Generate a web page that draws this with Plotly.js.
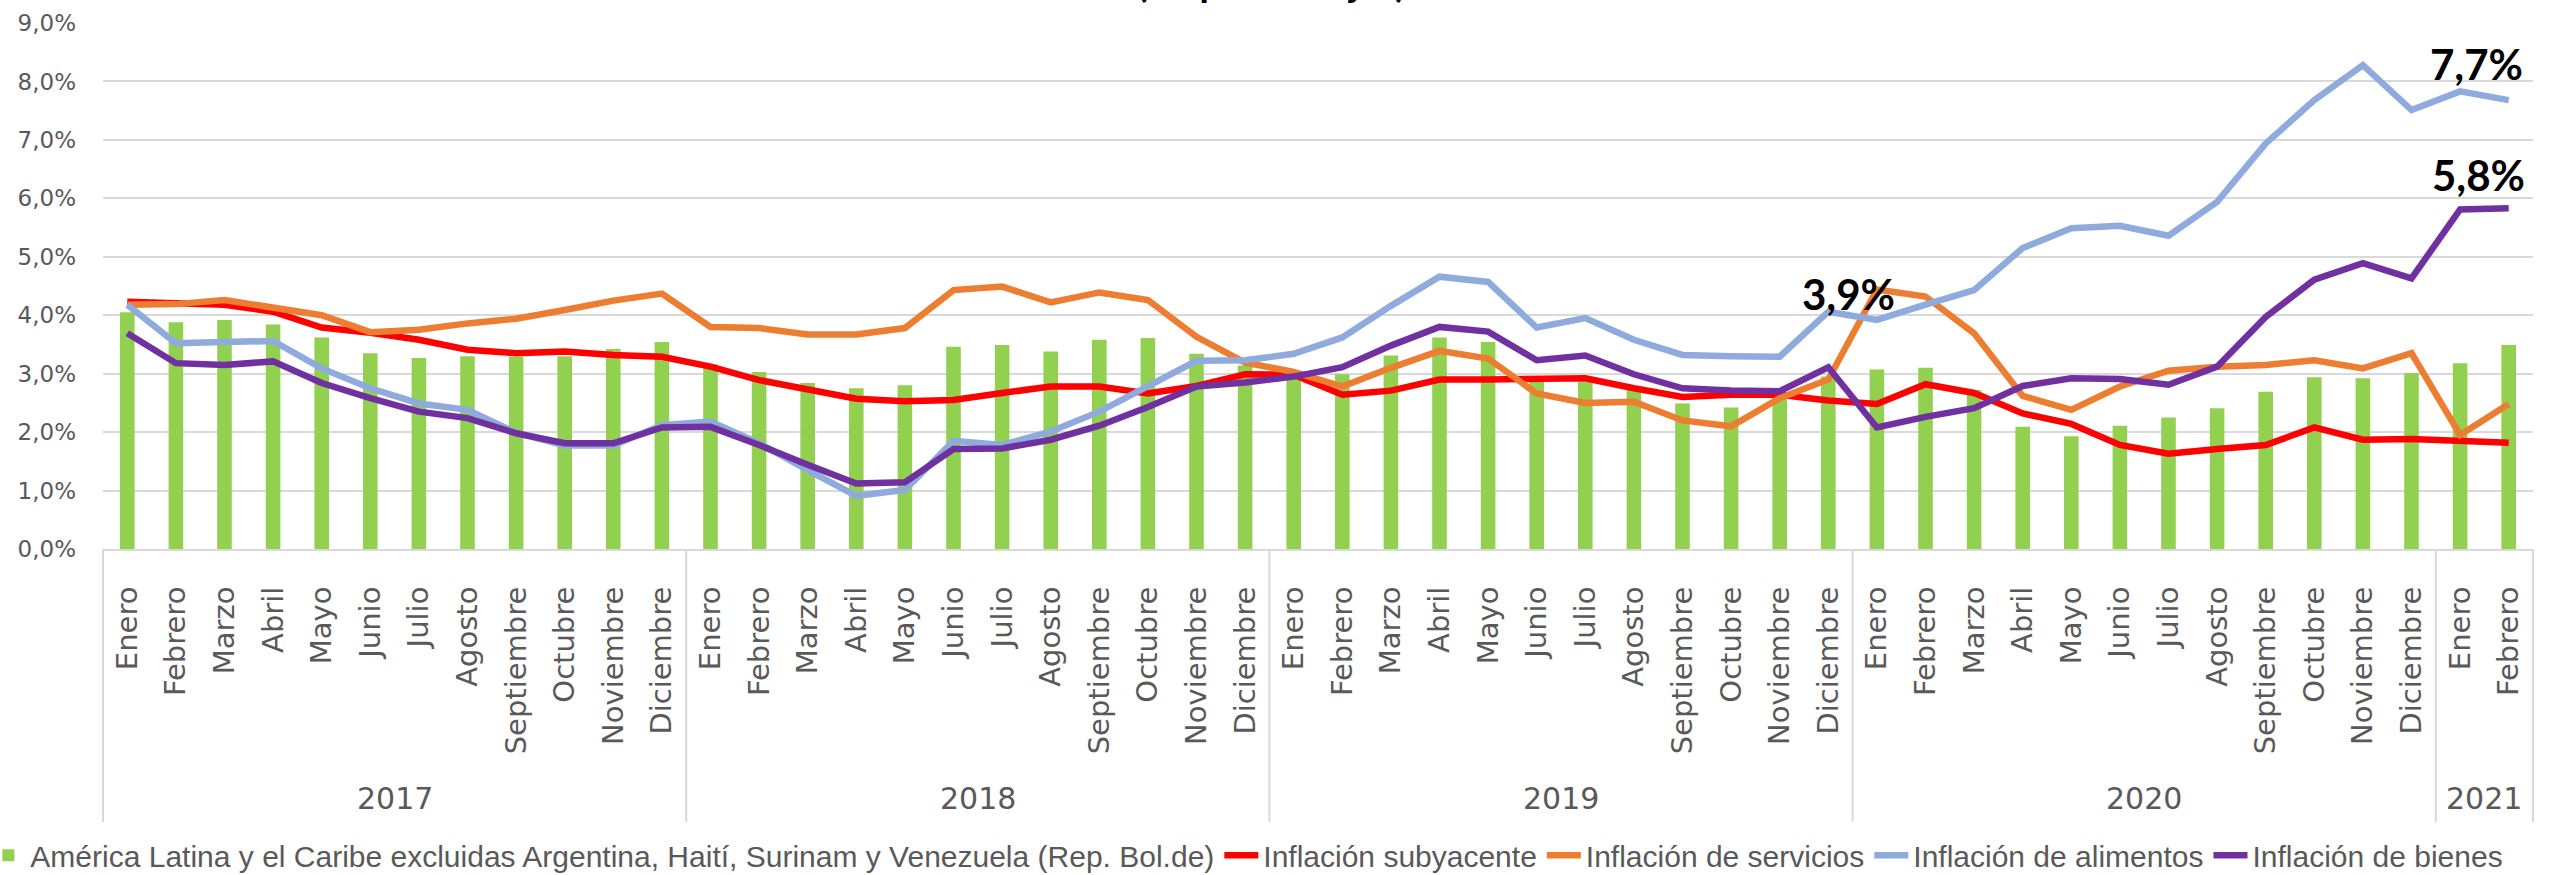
<!DOCTYPE html>
<html><head><meta charset="utf-8">
<script src="https://cdn.plot.ly/plotly-3.0.1.min.js"></script>
<style>html,body{margin:0;padding:0;background:#fff;} #chart{width:2554px;height:875px;}</style>
</head><body><div id="chart"></div>
<script>
const months = ['Enero','Febrero','Marzo','Abril','Mayo','Junio','Julio','Agosto','Septiembre','Octubre','Noviembre','Diciembre'];
const years = ['2017','2018','2019','2020','2021'];
const monthsPerYear = [12,12,12,12,2];

const seriesNames = [
  'América Latina y el Caribe excluidas Argentina, Haití, Surinam y Venezuela (Rep. Bol.de)',
  'Inflación subyacente','Inflación de servicios','Inflación de alimentos','Inflación de bienes'
];

const americaLatina = [4.05,3.88,3.92,3.84,3.62,3.35,3.27,3.30,3.29,3.30,3.42,3.54,
  3.16,3.03,2.84,2.75,2.80,3.46,3.49,3.38,3.58,3.61,3.34,3.14,
  3.05,2.99,3.31,3.62,3.54,2.90,2.86,2.79,2.49,2.42,2.65,2.95,
  3.07,3.10,2.72,2.09,1.93,2.11,2.25,2.41,2.69,2.94,2.92,3.01,
  3.18,3.49];
const subyacente = [4.23,4.20,4.18,4.06,3.79,3.70,3.58,3.41,3.35,3.38,3.32,3.29,
  3.12,2.89,2.72,2.57,2.53,2.55,2.67,2.78,2.78,2.66,2.79,2.99,
  2.98,2.64,2.71,2.90,2.90,2.92,2.92,2.75,2.60,2.64,2.64,2.54,
  2.48,2.82,2.67,2.32,2.14,1.78,1.63,1.71,1.78,2.08,1.87,1.88,
  1.85,1.82];
const servicios = [4.18,4.19,4.26,4.12,4.00,3.71,3.75,3.86,3.94,4.09,4.25,4.37,
  3.80,3.78,3.67,3.67,3.78,4.43,4.49,4.22,4.39,4.26,3.63,3.19,
  3.03,2.78,3.10,3.39,3.26,2.66,2.50,2.52,2.20,2.10,2.58,2.90,
  4.44,4.32,3.69,2.62,2.38,2.78,3.05,3.12,3.15,3.23,3.09,3.35,
  1.95,2.48];
const alimentos = [4.18,3.52,3.54,3.56,3.09,2.75,2.49,2.38,1.99,1.77,1.77,2.12,
  2.18,1.81,1.35,0.91,1.01,1.85,1.78,2.01,2.35,2.78,3.22,3.23,
  3.34,3.62,4.16,4.66,4.57,3.79,3.95,3.58,3.32,3.30,3.29,4.06,
  3.92,4.18,4.43,5.15,5.49,5.53,5.36,5.94,6.94,7.68,8.28,7.51,
  7.83,7.68];
const bienes = [3.69,3.18,3.15,3.21,2.84,2.58,2.35,2.24,1.98,1.81,1.81,2.08,
  2.09,1.78,1.44,1.12,1.14,1.71,1.72,1.87,2.11,2.43,2.78,2.85,
  2.95,3.11,3.48,3.80,3.72,3.23,3.31,2.99,2.75,2.71,2.70,3.11,
  2.08,2.26,2.41,2.79,2.92,2.91,2.81,3.12,3.97,4.61,4.89,4.63,
  5.81,5.83];

const labelTexts = ['3,9%','7,7%','5,8%'];

// month label for each observation, and index positions on the x axis
const xMonth = [];
const groupStart = [];
years.forEach((y,k)=>{ groupStart.push(xMonth.length); for(let m=0;m<monthsPerYear[k];m++){ xMonth.push(months[m]); } });
const n = xMonth.length;
const xIdx = xMonth.map((m,i)=>i);

const colors = {bar:'#92d050', sub:'#ff0000', serv:'#ed7d31', alim:'#8faadc', bien:'#7030a0'};
const lineW = 6.5;

const traces = [
  {type:'bar', x:xIdx, y:americaLatina, name:seriesNames[0], marker:{color:colors.bar}},
  {type:'scatter', mode:'lines', x:xIdx, y:subyacente, name:seriesNames[1], line:{color:colors.sub, width:lineW}},
  {type:'scatter', mode:'lines', x:xIdx, y:servicios, name:seriesNames[2], line:{color:colors.serv, width:lineW}},
  {type:'scatter', mode:'lines', x:xIdx, y:alimentos, name:seriesNames[3], line:{color:colors.alim, width:lineW}},
  {type:'scatter', mode:'lines', x:xIdx, y:bienes, name:seriesNames[4], line:{color:colors.bien, width:lineW}}
];

const grayTxt = '#595959';
const gridCol = '#d9d9d9';
const labFont = {family:'Lato, Roboto, sans-serif', size:42, color:'#000000'};
const annotations = [
  {text:'<b>(En porcentajes)</b>', xref:'paper', yref:'paper', x:0.481, y:1.0304, yanchor:'bottom', xanchor:'center',
   showarrow:false, font:{family:'Lato, Roboto, sans-serif', size:38, color:'#000000'}},
  {text:'<b>'+labelTexts[0]+'</b>', xref:'x', yref:'y', x:xIdx[35], y:alimentos[35], xshift:20, yshift:18,
   xanchor:'center', yanchor:'middle', showarrow:false, font:labFont},
  {text:'<b>'+labelTexts[1]+'</b>', xref:'x', yref:'y', x:xIdx[n-1], y:alimentos[n-1], xshift:-32, yshift:36,
   xanchor:'center', yanchor:'middle', showarrow:false, font:labFont},
  {text:'<b>'+labelTexts[2]+'</b>', xref:'x', yref:'y', x:xIdx[n-1], y:bienes[n-1], xshift:-30, yshift:33,
   xanchor:'center', yanchor:'middle', showarrow:false, font:labFont}
];
// year group labels
years.forEach((y,k)=>{
  annotations.push({text:y, xref:'paper', yref:'paper', x:(groupStart[k] + monthsPerYear[k]/2)/n, y:-0.4734,
    xanchor:'center', yanchor:'middle', showarrow:false,
    font:{family:'DejaVu Sans, Verdana, sans-serif', size:30, color:grayTxt}});
});
// group dividers below the axis
const shapes = [];
groupStart.concat([n]).forEach(b=>{
  shapes.push({type:'line', xref:'paper', yref:'paper', x0:b/n, x1:b/n, y0:0, y1:-0.519,
    line:{color:gridCol, width:2}});
});

const layout = {
  width:2554, height:875,
  margin:{l:103, r:21, t:23, b:326, pad:0, autoexpand:false},
  paper_bgcolor:'#ffffff', plot_bgcolor:'#ffffff',
  separators:',.',
  bargap:0.7,
  showlegend:true,
  legend:{orientation:'h', xref:'paper', x:-0.048, xanchor:'left', yref:'paper', y:-0.582, yanchor:'middle',
    font:{family:'Liberation Sans, Arial, sans-serif', size:30, color:grayTxt},
    itemwidth:34, tracegroupgap:0, traceorder:'normal', bgcolor:'rgba(0,0,0,0)'},
  xaxis:{type:'linear', range:[-0.5, n-0.5], tickmode:'array', tickvals:xIdx, ticktext:xMonth, tickangle:-90,
    ticks:'outside', ticklen:24, tickcolor:'rgba(0,0,0,0)', showgrid:false, zeroline:false,
    showline:true, linecolor:gridCol, linewidth:2,
    tickfont:{family:'DejaVu Sans, Verdana, sans-serif', size:29, color:grayTxt}},
  yaxis:{range:[0,9], dtick:1, tickformat:'.1f', ticksuffix:'%', showgrid:true, gridcolor:gridCol, gridwidth:2,
    zeroline:false, showline:false, ticks:'', ticklabelstandoff:26,
    tickfont:{family:'DejaVu Sans, Verdana, sans-serif', size:23, color:grayTxt}},
  annotations:annotations,
  shapes:shapes
};

Plotly.newPlot('chart', traces, layout, {displayModeBar:false, staticPlot:true});
</script>
</body></html>
